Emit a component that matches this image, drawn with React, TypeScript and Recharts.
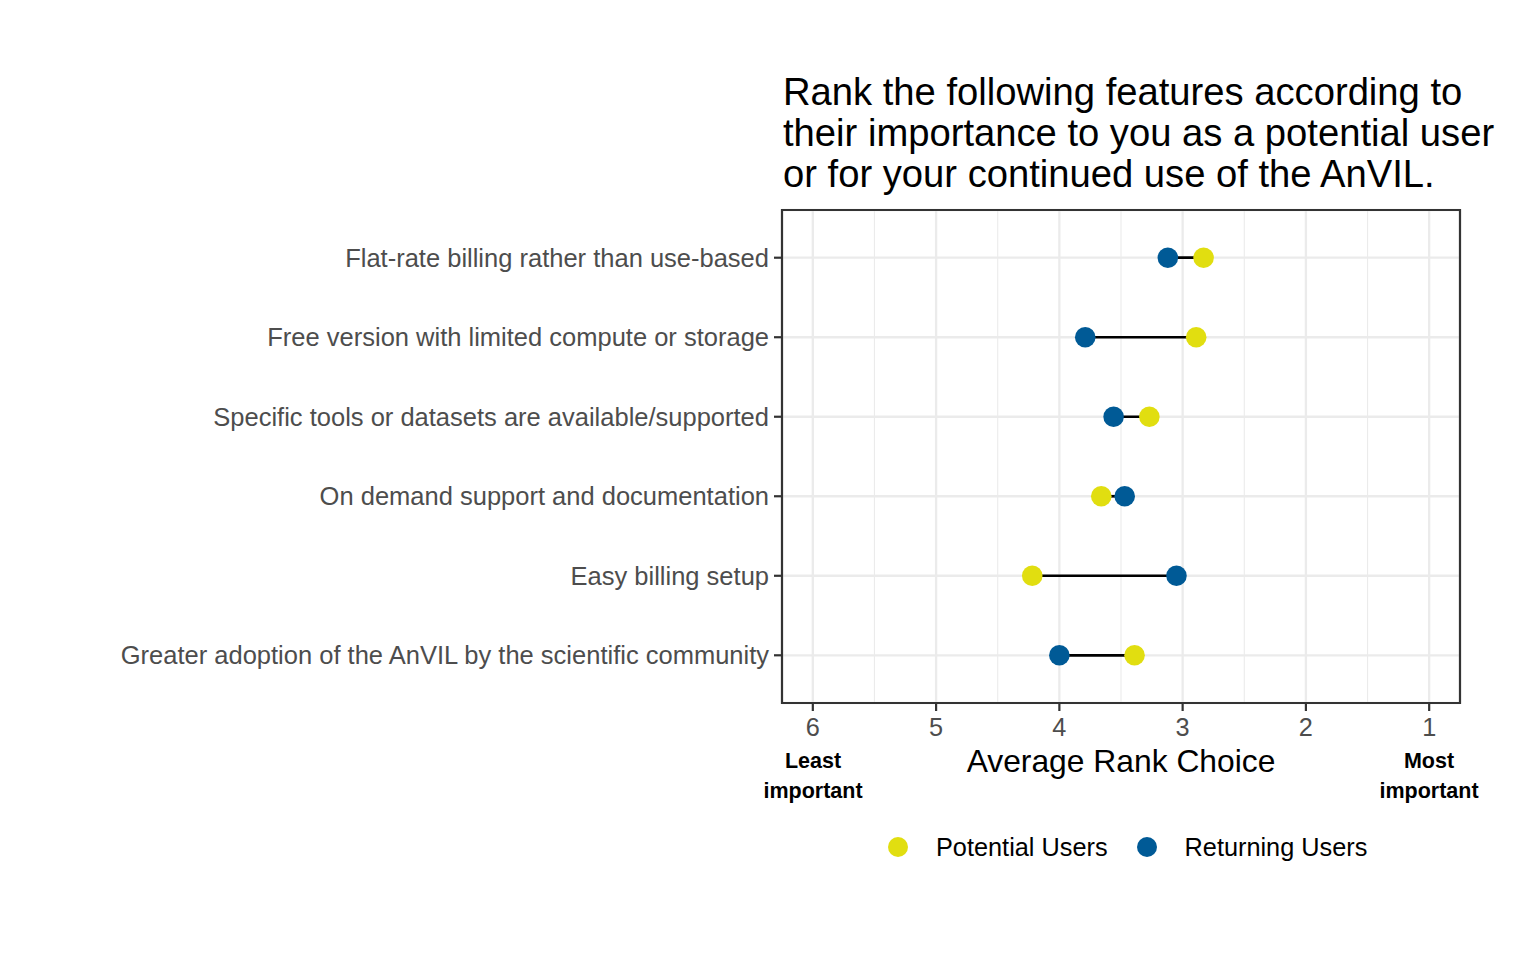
import React from "react";
import {
  ScatterChart,
  Scatter,
  XAxis,
  YAxis,
  CartesianGrid,
  ReferenceArea,
} from "recharts";

const categories = [
  "Flat-rate billing rather than use-based",
  "Free version with limited compute or storage",
  "Specific tools or datasets are available/supported",
  "On demand support and documentation",
  "Easy billing setup",
  "Greater adoption of the AnVIL by the scientific community",
];
const potentialUsers = [2.83, 2.89, 3.27, 3.66, 4.22, 3.39];
const returningUsers = [3.12, 3.79, 3.56, 3.47, 3.05, 4.0];
const xTicks = [6, 5, 4, 3, 2, 1];
const xMinorTicks = [5.5, 4.5, 3.5, 2.5, 1.5];
const yTicks = [1, 2, 3, 4, 5, 6];

const X_DOMAIN: [number, number] = [0.75, 6.25];
const Y_DOMAIN: [number, number] = [0.4, 6.6];

const YELLOW = "#E1DE10";
const BLUE = "#005A96";
const FONT = "'Liberation Sans', Arial, Helvetica, sans-serif";

const potentialData = potentialUsers.map((v, i) => ({ x: v, y: i + 1 }));
const returningData = returningUsers.map((v, i) => ({ x: v, y: i + 1 }));
const segments = categories.map((_, i) => [
  { x: potentialUsers[i], y: i + 1 },
  { x: returningUsers[i], y: i + 1 },
]);

const dot = (color: string) => (props: any) =>
  <circle cx={props.cx} cy={props.cy} r={10.3} fill={color} />;

const noShape = () => <g />;

export default function App() {
  return (
    <div
      style={{
        position: "absolute",
        left: 0,
        top: 0,
        width: 1536,
        height: 960,
        background: "#fff",
        fontFamily: FONT,
      }}
    >
      <ScatterChart
        width={1536}
        height={960}
        margin={{ top: 210, right: 76, bottom: 217, left: 0 }}
      >
        <XAxis
          xAxisId="minor"
          type="number"
          dataKey="x"
          domain={X_DOMAIN}
          ticks={xMinorTicks}
          reversed
          hide
          allowDataOverflow
        />
        <CartesianGrid
          xAxisId="minor"
          horizontal={false}
          stroke="#EBEBEB"
          strokeWidth={1.1}
        />
        <CartesianGrid stroke="#EBEBEB" strokeWidth={2.3} />
        <XAxis
          type="number"
          dataKey="x"
          domain={X_DOMAIN}
          ticks={xTicks}
          reversed
          allowDataOverflow
          height={40}
          axisLine={false}
          tickSize={8}
          tickMargin={7}
          tickLine={{ stroke: "#333333", strokeWidth: 2.2 }}
          tick={{ fill: "#4D4D4D", fontSize: 25.3 }}
        />
        <YAxis
          type="number"
          dataKey="y"
          domain={Y_DOMAIN}
          ticks={yTicks}
          reversed
          allowDataOverflow
          width={782}
          axisLine={false}
          tickSize={8}
          tickMargin={5}
          tickLine={{ stroke: "#333333", strokeWidth: 2.2 }}
          tick={{ fill: "#4D4D4D", fontSize: 25.5 }}
          tickFormatter={(v: number) => categories[v - 1] ?? ""}
        />
        {segments.map((seg, i) => (
          <Scatter
            key={"seg" + i}
            data={seg}
            fill="#000"
            line={{ stroke: "#000", strokeWidth: 2.7 }}
            shape={noShape}
            isAnimationActive={false}
          />
        ))}
        <Scatter
          name="Potential Users"
          data={potentialData}
          fill={YELLOW}
          shape={dot(YELLOW)}
          isAnimationActive={false}
        />
        <Scatter
          name="Returning Users"
          data={returningData}
          fill={BLUE}
          shape={dot(BLUE)}
          isAnimationActive={false}
        />
        <ReferenceArea
          x1={X_DOMAIN[0]}
          x2={X_DOMAIN[1]}
          y1={Y_DOMAIN[0]}
          y2={Y_DOMAIN[1]}
          fill="none"
          fillOpacity={0}
          stroke="#333333"
          strokeWidth={2.2}
          ifOverflow="visible"
        />
      </ScatterChart>

      <div
        style={{
          position: "absolute",
          left: 783,
          top: 71,
          fontSize: 38.2,
          lineHeight: "41px",
          color: "#000",
          whiteSpace: "nowrap",
        }}
      >
        Rank the following features according to
        <br />
        their importance to you as a potential user
        <br />
        or for your continued use of the AnVIL.
      </div>

      <div
        style={{
          position: "absolute",
          left: 782,
          width: 678,
          top: 743,
          textAlign: "center",
          fontSize: 31.8,
          lineHeight: "36px",
          color: "#000",
        }}
      >
        Average Rank Choice
      </div>

      <div
        style={{
          position: "absolute",
          left: 713,
          width: 200,
          top: 746,
          textAlign: "center",
          fontSize: 21.5,
          fontWeight: "bold",
          lineHeight: "30px",
          color: "#000",
        }}
      >
        Least
        <br />
        important
      </div>
      <div
        style={{
          position: "absolute",
          left: 1329,
          width: 200,
          top: 746,
          textAlign: "center",
          fontSize: 21.5,
          fontWeight: "bold",
          lineHeight: "30px",
          color: "#000",
        }}
      >
        Most
        <br />
        important
      </div>

      <div
        style={{
          position: "absolute",
          left: 888,
          top: 832,
          display: "flex",
          alignItems: "center",
          fontSize: 25.3,
          lineHeight: "30px",
          color: "#000",
          whiteSpace: "nowrap",
        }}
      >
        <svg width={20} height={20} style={{ marginRight: 28 }}>
          <circle cx={10} cy={10} r={10} fill={YELLOW} />
        </svg>
        <span style={{ marginRight: 29 }}>Potential Users</span>
        <svg width={20} height={20} style={{ marginRight: 28 }}>
          <circle cx={10} cy={10} r={10} fill={BLUE} />
        </svg>
        <span>Returning Users</span>
      </div>
    </div>
  );
}
